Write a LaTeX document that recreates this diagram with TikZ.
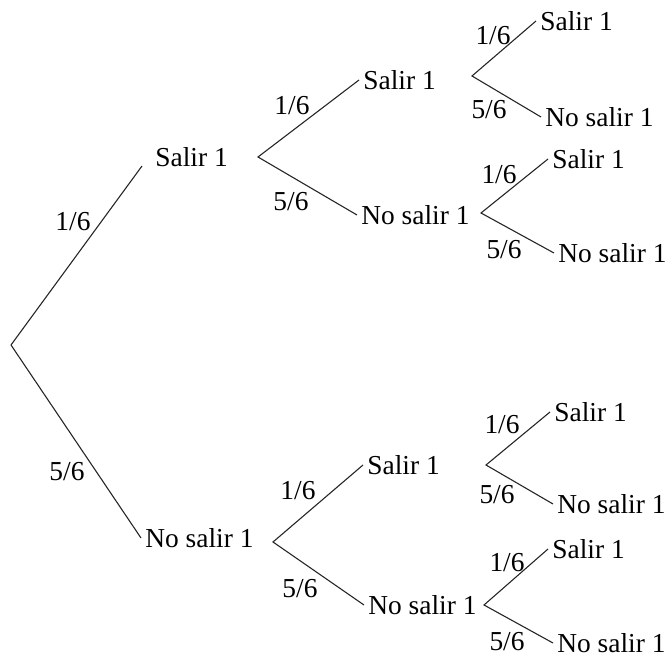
\documentclass[tikz,border=0pt]{standalone}
\usepackage{fontspec}
\setmainfont{Liberation Serif}
\usetikzlibrary{calc}

\tikzset{
    res/.style={anchor=west, inner sep=2pt},
    prob/.style={inner sep=0pt},
    rama/.style={line width=0.55pt, black!85}
}

\begin{document}
\begin{tikzpicture}[x=0.5pt, y=-0.5pt, font=\fontsize{13.7}{16}\selectfont]
    \useasboundingbox (0,0) rectangle (668,657);
    % puntos de bifurcacion
    \coordinate (r) at (11,345);
    \coordinate (fs) at (258,157);
    \coordinate (fn) at (273,542);
    \coordinate (fss) at (472,76);
    \coordinate (fsn) at (481,213);
    \coordinate (fns) at (486,465);
    \coordinate (fnn) at (484,605);
    % resultados
    \node[res] (s) at (151,157) {Salir 1};
    \node[res] (n) at (141,538) {No salir 1};
    \node[res] (ss) at (359,80) {Salir 1};
    \node[res] (sn) at (357,215) {No salir 1};
    \node[res] (ns) at (363,465) {Salir 1};
    \node[res] (nn) at (364,605) {No salir 1};
    \node[res] (sss) at (536,21) {Salir 1};
    \node[res] (ssn) at (541,117) {No salir 1};
    \node[res] (sns) at (548,159) {Salir 1};
    \node[res] (snn) at (554,253) {No salir 1};
    \node[res] (nss) at (550,412) {Salir 1};
    \node[res] (nsn) at (553,504) {No salir 1};
    \node[res] (nns) at (548,549) {Salir 1};
    \node[res] (nnn) at (553,643) {No salir 1};
    % ramas
    \draw[rama] (r) -- ([shift={(-4.5pt,-4.5pt)}]s.west);
    \draw[rama] (r) -- (n.west);
    \draw[rama] (ss.west) -- (fs) -- (sn.west);
    \draw[rama] (ns.west) -- (fn) -- (nn.west);
    \draw[rama] (sss.west) -- (fss) -- (ssn.west);
    \draw[rama] (sns.west) -- (fsn) -- (snn.west);
    \draw[rama] (nss.west) -- (fns) -- (nsn.west);
    \draw[rama] (nns.west) -- (fnn) -- (nnn.west);
    % probabilidades
    \node[prob] (p1) at (73,222) {1/6};
    \node[prob] (q1) at (67,472) {5/6};
    \node[prob] (p2) at (292,106) {1/6};
    \node[prob] (q2) at (291,202) {5/6};
    \node[prob] (p3) at (298,491) {1/6};
    \node[prob] (q3) at (300,589) {5/6};
    \node[prob] (p4) at (493,36) {1/6};
    \node[prob] (q4) at (489,110) {5/6};
    \node[prob] (p5) at (499,175) {1/6};
    \node[prob] (q5) at (504,250) {5/6};
    \node[prob] (p6) at (502,425) {1/6};
    \node[prob] (q6) at (497,495) {5/6};
    \node[prob] (p7) at (507,563) {1/6};
    \node[prob] (q7) at (507,642) {5/6};
\end{tikzpicture}
\end{document}
